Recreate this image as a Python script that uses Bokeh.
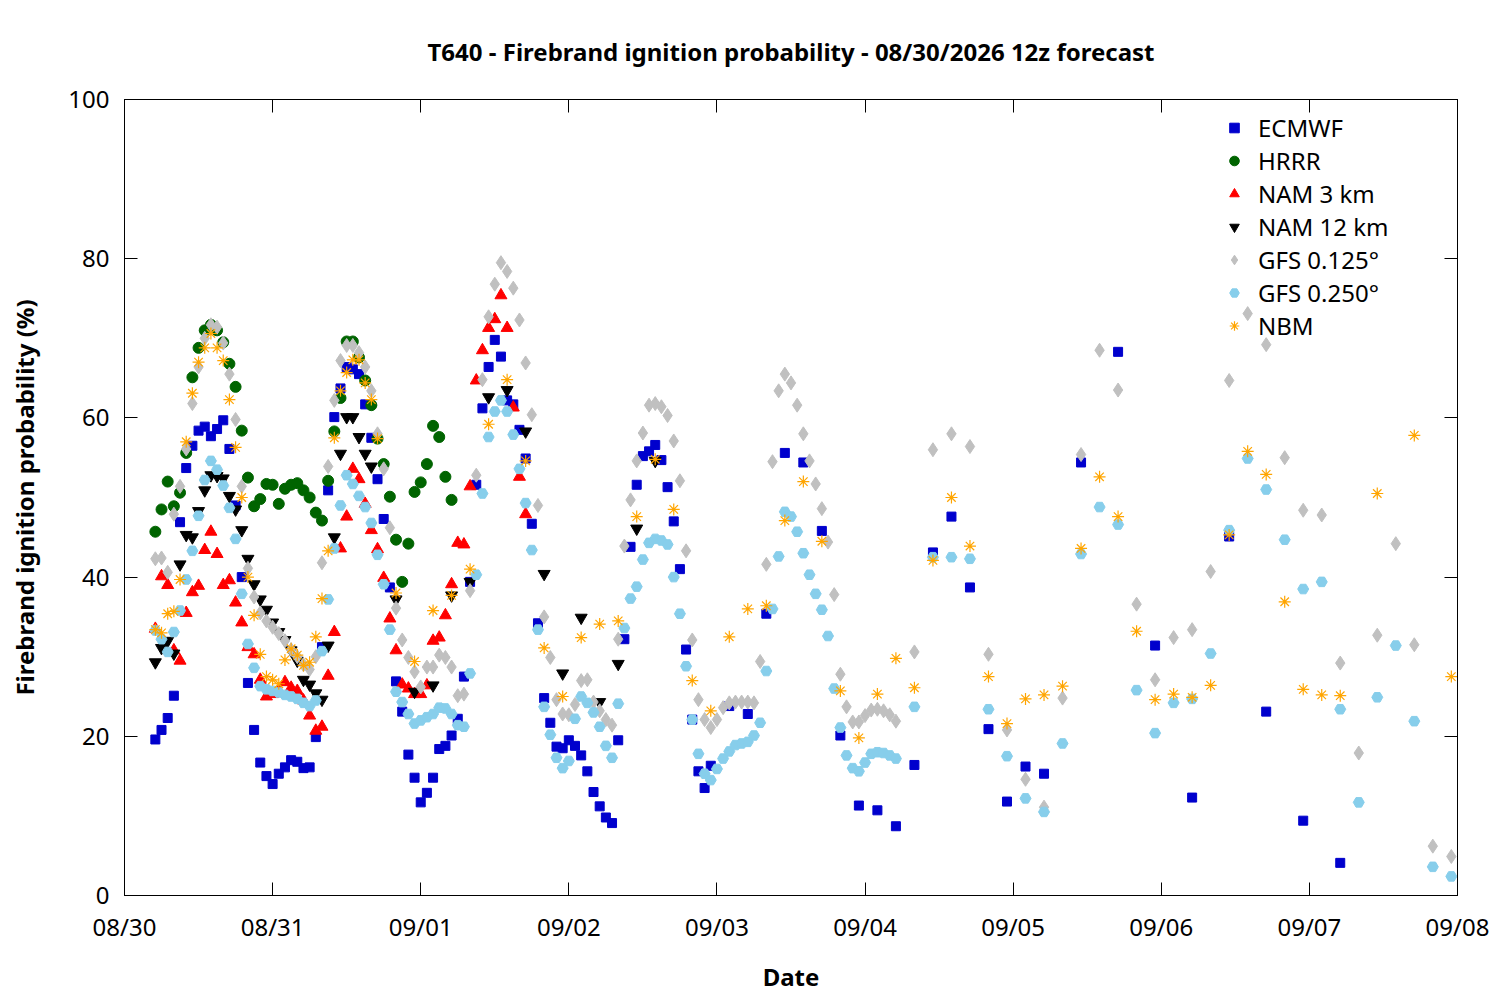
from bokeh.plotting import figure
from bokeh.models import Range1d, FixedTicker, LinearAxis, Legend, LegendItem
from bokeh.embed import file_html
from bokeh.resources import INLINE

FONT = "Noto Sans"

# ---- axis ticks / labels ----
day_ticks = [0, 24, 48, 72, 96, 120, 144, 168, 192, 216]          # forecast hours from 08/30 00z
day_labels = ["08/30", "08/31", "09/01", "09/02", "09/03", "09/04", "09/05", "09/06", "09/07", "09/08"]
y_ticks = [0, 20, 40, 60, 80, 100]

# ---- ECMWF ----
ecmwf_hours = list(range(5, 96)) + list(range(98, 150, 3)) + list(range(155, 198, 6))
ecmwf_vals = [
    19.6, 20.8, 22.3, 25.1, 46.9, 53.7, 56.5, 58.4, 58.9, 57.7,
    58.6, 59.7, 56.1, 49.0, 40.0, 26.7, 20.8, 16.7, 15.0, 14.0,
    15.3, 16.1, 17.0, 16.8, 16.0, 16.1, 19.9, 31.2, 50.9, 60.1,
    63.7, 66.4, 66.1, 65.5, 61.7, 57.5, 52.3, 47.3, 38.7, 26.9,
    23.1, 17.7, 14.8, 11.7, 12.9, 14.8, 18.4, 18.8, 20.1, 22.2,
    27.5, 39.4, 51.6, 61.2, 66.4, 69.8, 67.7, 62.2, 61.7, 58.5,
    54.9, 46.7, 34.2, 24.8, 21.7, 18.7, 18.5, 19.5, 18.8, 17.6,
    15.6, 13.0, 11.2, 9.8, 9.1, 19.5, 32.2, 43.8, 51.6, 55.2,
    55.8, 56.6, 54.7, 51.3, 47.0, 41.0, 30.9, 22.1, 15.6, 13.5,
    16.3,
    23.8, 22.8, 35.4, 55.6, 54.4, 45.8, 20.1, 11.3, 10.7, 8.7,
    16.4, 43.1, 47.6, 38.7, 20.9, 11.8, 16.2, 15.3,
    54.4, 68.3, 31.4, 12.3, 45.1, 23.1, 9.4, 4.1,
]

# ---- HRRR ----
hrrr_hours = list(range(5, 54))
hrrr_vals = [
    45.7, 48.5, 52.0, 48.9, 50.6, 55.6, 65.1, 68.8, 71.0, 71.7,
    71.0, 69.5, 66.8, 63.9, 58.4, 52.5, 48.9, 49.8, 51.7, 51.6,
    49.2, 51.1, 51.6, 51.8, 50.9, 50.0, 48.1, 47.1, 52.1, 58.3,
    62.5, 69.6, 69.6, 67.6, 64.7, 61.6, 57.4, 54.2, 50.1, 44.7,
    39.4, 44.2, 50.7, 51.9, 54.2, 59.0, 57.6, 52.6, 49.7,
]

# ---- NAM 3 km ----
nam3_hours = list(range(5, 66))
nam3_vals = [
    33.5, 40.1, 39.0, 30.8, 29.5, 35.5, 38.1, 38.9, 43.4, 45.7,
    42.9, 39.0, 39.6, 36.8, 34.3, 31.2, 30.3, 27.1, 25.0, 25.3,
    25.7, 26.8, 26.1, 25.7, 24.5, 22.6, 20.7, 21.2, 27.6, 33.1,
    43.6, 47.6, 53.6, 52.3, 49.2, 45.9, 43.5, 39.9, 34.8, 30.8,
    26.5, 26.0, 25.3, 25.3, 26.4, 32.0, 32.4, 35.2, 39.1, 44.3,
    44.1, 51.4, 64.7, 68.5, 71.3, 72.4, 75.4, 71.3, 61.3, 52.6,
    47.9,
]

# ---- NAM 12 km ----
nam12_hours = list(range(5, 41)) + list(range(44, 87, 3))
nam12_vals = [
    29.3, 31.1, 32.0, 30.4, 41.6, 45.3, 45.0, 48.3, 50.9, 52.8,
    52.7, 52.4, 50.2, 48.5, 45.9, 42.3, 39.1, 37.2, 35.9, 34.3,
    33.1, 32.1, 30.8, 29.5, 27.1, 26.5, 25.4, 24.6, 31.4, 45.0,
    55.5, 60.1, 60.1, 57.6, 55.5, 53.9,
    37.2, 25.6, 26.4, 37.7, 39.4, 62.6, 63.5, 58.3, 40.4, 27.9,
    34.9, 24.3, 29.1, 46.1, 54.6,
]

# ---- GFS 0.125 ----
gfs125_hours = list(range(5, 126)) + list(range(128, 216, 3))
gfs125_vals = [
    42.3, 42.4, 40.6, 47.9, 51.4, 56.1, 61.8, 66.4, 70.0, 71.7,
    71.4, 69.4, 65.5, 59.8, 51.4, 41.1, 37.5, 35.5, 34.5, 33.7,
    32.9, 32.0, 30.9, 30.0, 29.0, 28.4, 30.0, 41.8, 53.9, 62.2,
    67.2, 69.1, 69.1, 68.2, 66.4, 63.4, 58.0, 53.6, 46.2, 36.1,
    32.1, 29.9, 28.1, 26.2, 28.7, 28.7, 30.2, 29.9, 28.7, 25.1,
    25.3, 38.3, 52.8, 64.8, 72.7, 76.8, 79.5, 78.4, 76.3, 72.3,
    66.9, 60.4, 49.0, 35.0, 29.9, 24.6, 22.8, 22.7, 24.0, 27.0,
    27.1, 24.3, 23.2, 22.1, 21.4, 32.2, 43.9, 49.7, 54.6, 58.1,
    61.6, 61.8, 61.4, 60.3, 57.1, 52.1, 43.3, 32.1, 24.6, 22.1,
    21.1, 22.1, 23.6, 24.2, 24.3, 24.3, 24.3, 24.2, 29.4, 41.6,
    54.5, 63.4, 65.5, 64.4, 61.6, 58.0, 54.6, 51.7, 48.6, 44.4,
    37.8, 27.8, 23.7, 21.8, 21.8, 22.6, 23.3, 23.4, 23.2, 22.7,
    21.9,
    30.6, 56.0, 58.0, 56.4, 30.3, 20.8, 14.6, 11.1, 24.8, 55.4,
    68.5, 63.5, 36.6, 27.1, 32.4, 33.4, 40.7, 64.7, 73.1, 69.2,
    55.0, 48.4, 47.8, 29.2, 17.9, 32.7, 44.2, 31.5, 6.2, 4.9,
]

# ---- GFS 0.250 ----
gfs250_hours = list(range(5, 126)) + list(range(128, 216, 3))
gfs250_vals = [
    33.3, 32.2, 30.6, 33.1, 35.8, 39.7, 43.3, 47.7, 52.2, 54.6,
    53.5, 51.5, 48.7, 44.8, 37.9, 31.6, 28.6, 26.3, 25.9, 25.7,
    25.5, 25.2, 25.0, 24.7, 24.2, 23.8, 24.5, 30.7, 37.2, 43.6,
    49.0, 52.8, 51.7, 50.2, 48.8, 46.8, 42.8, 39.1, 33.4, 25.6,
    24.3, 22.8, 21.6, 22.0, 22.4, 22.8, 23.6, 23.5, 22.8, 21.4,
    21.2, 27.9, 40.3, 50.5, 57.6, 60.8, 62.2, 60.8, 57.9, 53.6,
    49.3, 43.4, 33.4, 23.7, 20.2, 17.3, 16.0, 16.9, 22.2, 25.0,
    24.2, 23.0, 21.2, 18.8, 17.3, 24.1, 33.6, 37.3, 38.8, 42.2,
    44.3, 44.8, 44.6, 44.1, 40.0, 35.4, 28.8, 22.1, 17.8, 15.3,
    14.5, 15.9, 17.2, 18.1, 18.9, 19.1, 19.3, 20.1, 21.7, 28.2,
    36.0, 42.6, 48.2, 47.6, 45.7, 43.0, 40.3, 37.9, 35.9, 32.6,
    26.0, 21.1, 17.6, 16.0, 15.6, 16.7, 17.8, 18.0, 17.9, 17.6,
    17.2,
    23.7, 42.5, 42.5, 42.3, 23.4, 17.5, 12.2, 10.5, 19.1, 42.9,
    48.8, 46.6, 25.8, 20.4, 24.2, 24.7, 30.4, 45.9, 54.9, 51.0,
    44.7, 38.5, 39.4, 23.4, 11.7, 24.9, 31.4, 21.9, 3.6, 2.4,
]

# ---- NBM ----
nbm_hours = list(range(5, 42)) + list(range(44, 198, 3)) + [203, 209, 215]
nbm_vals = [
    33.4, 33.0, 35.4, 35.7, 39.7, 57.0, 63.1, 67.0, 68.8, 70.6,
    68.8, 67.2, 62.3, 56.3, 50.0, 40.0, 35.2, 30.3, 27.5, 27.1,
    26.6, 29.6, 31.0, 30.2, 28.9, 29.3, 32.5, 37.3, 43.3, 57.5,
    63.4, 65.7, 67.3, 67.3, 64.4, 62.3, 57.4,
    38.0, 29.4, 35.8, 37.7, 41.0, 59.2, 64.8, 54.6, 31.1, 25.0,
    32.4, 34.1, 34.5, 47.6, 54.8, 48.5, 27.0, 23.2, 32.5, 36.0,
    36.4, 47.1, 52.0, 44.5, 25.7, 19.8, 25.3, 29.8, 26.1, 42.1,
    50.0, 43.9, 27.5, 21.6, 24.7, 25.2, 26.3, 43.6, 52.6, 47.6,
    33.2, 24.6, 25.3, 24.9, 26.4, 45.3, 55.8, 52.9, 36.9, 25.9,
    25.2, 25.1,
    50.5, 57.8, 27.5,
]

for hh, vv in [(ecmwf_hours, ecmwf_vals), (hrrr_hours, hrrr_vals), (nam3_hours, nam3_vals),
               (nam12_hours, nam12_vals), (gfs125_hours, gfs125_vals), (gfs250_hours, gfs250_vals),
               (nbm_hours, nbm_vals)]:
    assert len(hh) == len(vv), (len(hh), len(vv))

p = figure(width=1500, height=1000,
           x_range=Range1d(0, 216), y_range=Range1d(0, 100),
           output_backend="svg", toolbar_location=None,
           min_border_left=124, min_border_right=43, min_border_top=99, min_border_bottom=105,
           background_fill_color="white", border_fill_color="white")

p.title.text = "T640 - Firebrand ignition probability - 08/30/2026 12z forecast"
p.title.align = "center"
p.title.text_font = FONT
p.title.text_font_size = "24px"
p.title.text_font_style = "bold"
p.title.text_color = "black"
p.title.standoff = 64

p.grid.visible = False
p.outline_line_color = "black"
p.outline_line_width = 1


def style_axis(ax):
    ax.major_tick_in = 13
    ax.major_tick_out = 0
    ax.minor_tick_in = 0
    ax.minor_tick_out = 0
    ax.axis_line_color = "black"
    ax.major_tick_line_color = "black"
    ax.major_label_text_font = FONT
    ax.major_label_text_font_size = "24px"
    ax.major_label_text_color = "black"
    ax.axis_label_text_font = FONT
    ax.axis_label_text_font_size = "24px"
    ax.axis_label_text_font_style = "bold"
    ax.axis_label_text_color = "black"


xax = p.xaxis[0]
yax = p.yaxis[0]
style_axis(xax)
style_axis(yax)
xax.ticker = FixedTicker(ticks=day_ticks)
xax.major_label_overrides = {t: lab for t, lab in zip(day_ticks, day_labels)}
xax.major_label_standoff = 14
xax.axis_label = "Date"
xax.axis_label_standoff = 14
yax.ticker = FixedTicker(ticks=y_ticks)
yax.major_label_standoff = 15
yax.axis_label = "Firebrand ignition probability (%)"
yax.axis_label_standoff = 24

top = LinearAxis(ticker=FixedTicker(ticks=day_ticks),
                 major_label_overrides={t: "" for t in day_ticks})
style_axis(top)
top.major_label_standoff = 0
p.add_layout(top, "above")
right = LinearAxis(ticker=FixedTicker(ticks=y_ticks),
                   major_label_overrides={t: "" for t in y_ticks})
style_axis(right)
right.major_label_standoff = 0
p.add_layout(right, "right")

r_ec = p.scatter(ecmwf_hours, ecmwf_vals, marker="square", size=9,
                 fill_color="#0000cd", line_color="#0000cd")
r_hr = p.scatter(hrrr_hours, hrrr_vals, marker="circle", size=11,
                 fill_color="#006400", line_color="#006400")
r_n3 = p.scatter(nam3_hours, nam3_vals, marker="triangle", size=12,
                 fill_color="#ff0000", line_color="#ff0000")
r_n12 = p.scatter(nam12_hours, nam12_vals, marker="inverted_triangle", size=12,
                  fill_color="black", line_color="black")
r_g1 = p.scatter(gfs125_hours, gfs125_vals, marker="diamond", size=14,
                 fill_color="#c0c0c0", line_color="#c0c0c0")
r_g2 = p.scatter(gfs250_hours, gfs250_vals, marker="hex", size=11,
                 fill_color="#87ceeb", line_color="#87ceeb")
r_nb = p.scatter(nbm_hours, nbm_vals, marker="asterisk", size=12,
                 line_color="#ffa500", line_width=1.2)

legend = Legend(items=[
    LegendItem(label="ECMWF", renderers=[r_ec]),
    LegendItem(label="HRRR", renderers=[r_hr]),
    LegendItem(label="NAM 3 km", renderers=[r_n3]),
    LegendItem(label="NAM 12 km", renderers=[r_n12]),
    LegendItem(label="GFS 0.125°", renderers=[r_g1]),
    LegendItem(label="GFS 0.250°", renderers=[r_g2]),
    LegendItem(label="NBM", renderers=[r_nb]),
], location=(1098, 553))
legend.border_line_color = None
legend.background_fill_alpha = 0
legend.label_text_font = FONT
legend.label_text_font_size = "24px"
legend.label_text_color = "black"
legend.glyph_width = 24
legend.glyph_height = 33
legend.spacing = 0
legend.padding = 0
legend.margin = 0
legend.label_standoff = 12
p.add_layout(legend)

open("out.html", "w").write(file_html(p, INLINE))
